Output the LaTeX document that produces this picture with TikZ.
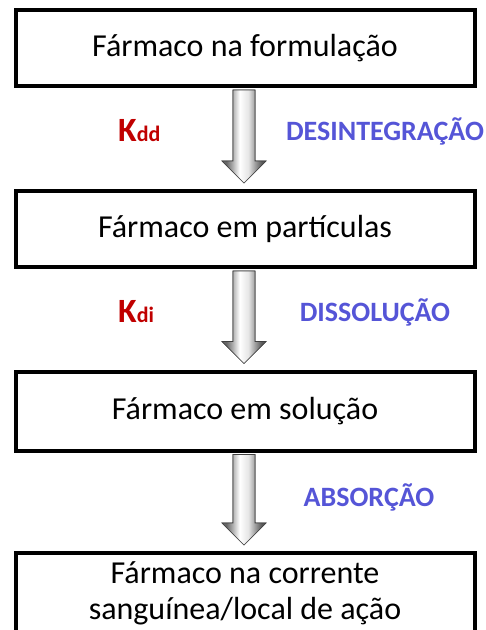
\documentclass[tikz,border=0pt]{standalone}
\usepackage{fontspec}
\setmainfont{Carlito}
\usepackage{tikz}
\usetikzlibrary{calc}

\definecolor{ratered}{RGB}{192,0,0}
\definecolor{stageblue}{RGB}{85,85,215}

\pgfdeclarehorizontalshading{arrowshade}{100bp}{color(0bp)=(black!60); color(30bp)=(black!60);
  color(45bp)=(white); color(55bp)=(black!10); color(70bp)=(black!65); color(100bp)=(black!65)}

\tikzset{
  farmbox/.style={draw, line width=4pt, minimum width=459pt, align=center,
    font=\fontsize{32}{36}\selectfont},
  rate/.style={anchor=west, text=ratered, font=\bfseries, inner sep=0pt},
  stage/.style={text=stageblue, font=\bfseries\fontsize{28}{30}\selectfont, inner sep=0pt},
  fatarrow/.style={draw=black!75, line width=0.6pt, shading=arrowshade}
}

% big grey arrow from the bottom of one box to the top of the next
\newcommand{\fatarrow}[2]{%
  \shade[fatarrow] ($(#1.south)+(-12,-2)$) -- ($(#1.south)+(10,-2)$)
    -- ($(#2.north)+(10,28)$) -- ($(#2.north)+(21,28)$) -- ($(#2.north)+(-1,6)$)
    -- ($(#2.north)+(-23,28)$) -- ($(#2.north)+(-12,28)$) -- cycle;
  \draw[fatarrow] ($(#1.south)+(-12,-2)$) -- ($(#1.south)+(10,-2)$)
    -- ($(#2.north)+(10,28)$) -- ($(#2.north)+(21,28)$) -- ($(#2.north)+(-1,6)$)
    -- ($(#2.north)+(-23,28)$) -- ($(#2.north)+(-12,28)$) -- cycle;}

\begin{document}
\begin{tikzpicture}[x=1pt, y=1pt]
\useasboundingbox (0,0) rectangle (486,-630);
\clip (0,0) rectangle (486,-630);

\node[farmbox, minimum height=76pt] (form) at (245,-48) {Fármaco na formulação};
\node[farmbox, minimum height=76pt] (part) at (245,-229) {Fármaco em partículas};
\node[farmbox, minimum height=79pt] (sol) at (245,-411) {Fármaco em solução};
\node[farmbox, minimum height=80pt] (blood) at (245,-593) {Fármaco na corrente\\sanguínea/local de ação};

\fatarrow{form}{part}
\fatarrow{part}{sol}
\fatarrow{sol}{blood}

\node[rate] (kdd) at (118,-131) {{\fontsize{34}{36}\selectfont K}{\fontsize{22}{24}\selectfont dd}};
\node[rate] (kdi) at (118,-312) {{\fontsize{34}{36}\selectfont K}{\fontsize{22}{24}\selectfont di}};

\node[stage] (desint) at (385,-131) {DESINTEGRAÇÃO};
\node[stage] (dissol) at (375,-312) {DISSOLUÇÃO};
\node[stage] (absorc) at (369,-497) {ABSORÇÃO};
\end{tikzpicture}
\end{document}
